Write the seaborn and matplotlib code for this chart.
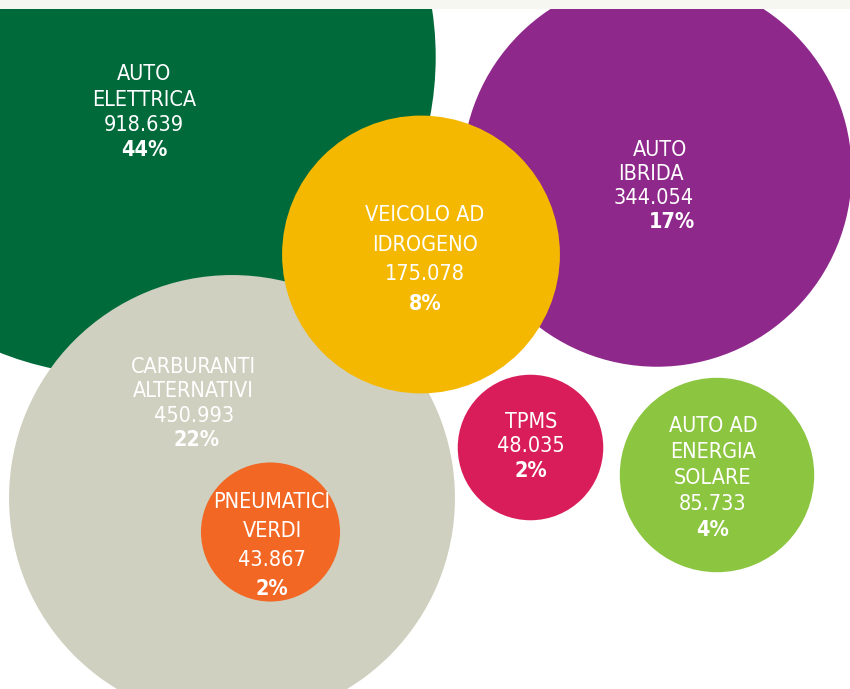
import matplotlib
matplotlib.use("Agg")
import matplotlib.pyplot as plt
from matplotlib.patches import Rectangle
import seaborn as sns
import pandas as pd
import numpy as np

# ---------------- data ----------------
categories = ["AUTO\nELETTRICA", "AUTO\nIBRIDA", "CARBURANTI\nALTERNATIVI",
              "VEICOLO AD\nIDROGENO", "TPMS", "AUTO AD\nENERGIA\nSOLARE",
              "PNEUMATICI\nVERDI"]
values = [918639, 344054, 450993, 175078, 48035, 85733, 43867]
colors = ["#006A3B", "#8E288B", "#CFD0BF", "#F5B800", "#D91D5B", "#8CC540", "#F26724"]

# ---------------- layout (pixel positions of bubble centres & labels) ----------------
center_x = [117.5, 657, 232, 421, 530.5, 717, 270.5]
center_y = [57, 172, 498, 254.5, 447.5, 475, 532]
label_x = [144, 657, 193, 425, 531, 713, 272]
label_y0 = [80, 156, 373, 221, 428, 432, 508]
label_gap = [25.5, 24, 24.3, 29.6, 24.5, 26, 29]
label_dx = {1: [3, -6, -3, 15], 2: [0, 0, 1, 4]}

W, H, DPI = 850, 689, 100
K = 0.332  # pixel radius per sqrt(value)

total = sum(values)
df = pd.DataFrame({"category": categories, "value": values,
                   "cx": center_x, "cy": center_y})

sns.set_theme(style="white")
plt.rcParams["font.family"] = ["DejaVu Sans Condensed", "DejaVu Sans"]

fig = plt.figure(figsize=(W / DPI, H / DPI), dpi=DPI)
ax = fig.add_axes([0, 0, 1, 1])

vmax = max(values)
smax = (2 * K * np.sqrt(vmax) * 72 / DPI) ** 2
sns.scatterplot(data=df, x="cx", y="cy", hue="category", size="value",
                palette=dict(zip(categories, colors)),
                sizes=(0, smax), size_norm=(0, vmax),
                linewidth=0, edgecolor="none", alpha=1,
                legend=False, ax=ax)

ax.set_xlim(0, W)
ax.set_ylim(H, 0)
ax.axis("off")

# top light strip
ax.add_patch(Rectangle((0, 0), W, 9, facecolor="#F7F7F2", edgecolor="none",
                       zorder=10))

for i, (cat, v) in enumerate(zip(categories, values)):
    lines = cat.split("\n")
    num = f"{v:,}".replace(",", ".")
    pct = f"{round(100 * v / total)}%"
    all_lines = [(t, "normal") for t in lines] + [(num, "normal"), (pct, "bold")]
    dxs = label_dx.get(i, [0] * len(all_lines))
    for j, (t, w) in enumerate(all_lines):
        ax.text(label_x[i] + dxs[j], label_y0[i] + j * label_gap[i], t,
                color="white", fontsize=15.5, fontweight=w,
                fontstretch="condensed", ha="center", va="baseline", zorder=5)

fig.savefig("out.png", dpi=DPI)
